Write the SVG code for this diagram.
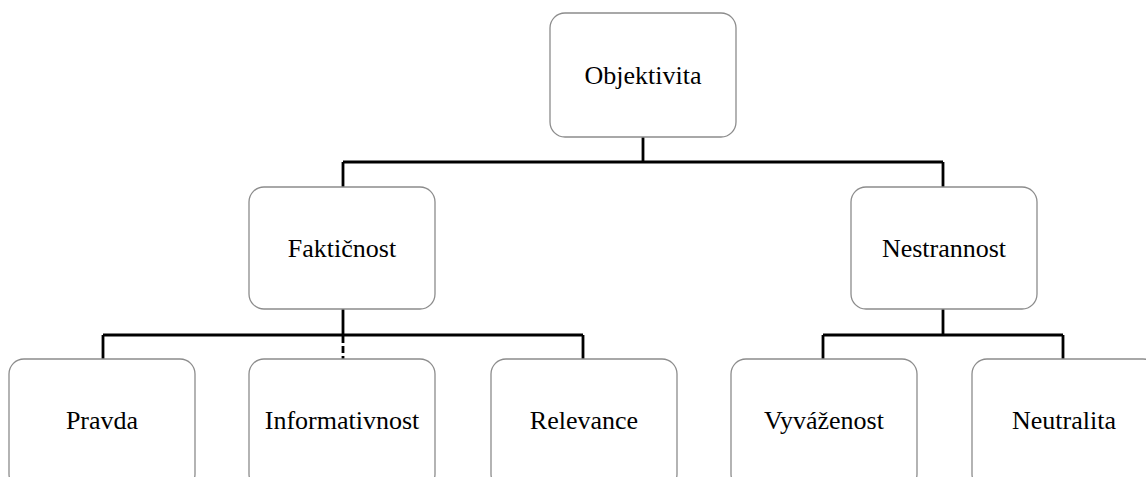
<svg xmlns="http://www.w3.org/2000/svg" width="1146" height="477" viewBox="0 0 1146 477">
<style>
.box{fill:#fff;stroke:#8c8c8c;stroke-width:1.3}
.lbl{font-family:"Liberation Serif","Times New Roman",serif;font-size:26px;fill:#000;text-anchor:middle}
.conn{fill:none;stroke:#000;stroke-width:2.8}
</style>
<rect width="1146" height="477" fill="#fff"/>
<g id="connectors">
<path class="conn" d="M643 137V162M343 162H943M343 162V187M943 162V187"/>
<path class="conn" d="M343 309V335M103 335H583M103 335V359M583 335V359"/>
<path class="conn" d="M343 336V359" stroke-dasharray="7,3"/>
<path class="conn" d="M943 309V335M823 335H1063M823 335V359M1063 335V359"/>
</g>
<g id="objektivita"><rect class="box" x="550" y="13" width="186" height="124" rx="15"/><text class="lbl" x="643" y="84">Objektivita</text></g>
<g id="fakticnost"><rect class="box" x="249" y="187" width="186" height="122" rx="15"/><text class="lbl" x="342" y="257">Faktičnost</text></g>
<g id="nestrannost"><rect class="box" x="851" y="187" width="186" height="122" rx="15"/><text class="lbl" x="944" y="257">Nestrannost</text></g>
<g id="pravda"><rect class="box" x="9" y="359" width="186" height="130" rx="15"/><text class="lbl" x="102" y="429">Pravda</text></g>
<g id="informativnost"><rect class="box" x="249" y="359" width="186" height="130" rx="15"/><text class="lbl" x="342" y="429">Informativnost</text></g>
<g id="relevance"><rect class="box" x="491" y="359" width="186" height="130" rx="15"/><text class="lbl" x="584" y="429">Relevance</text></g>
<g id="vyvazenost"><rect class="box" x="731" y="359" width="186" height="130" rx="15"/><text class="lbl" x="824" y="429">Vyváženost</text></g>
<g id="neutralita"><rect class="box" x="972" y="359" width="186" height="130" rx="15"/><text class="lbl" x="1064" y="429">Neutralita</text></g>
</svg>
